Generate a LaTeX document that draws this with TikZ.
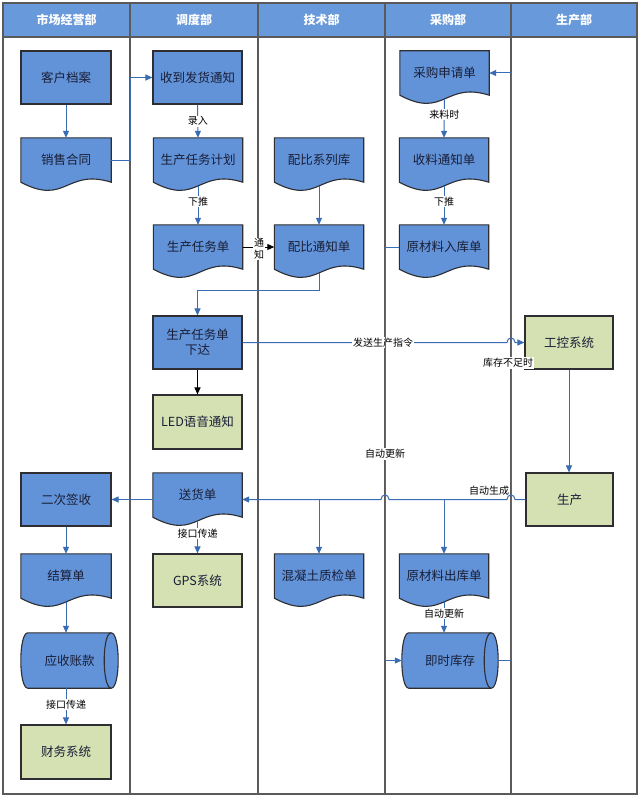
\documentclass[tikz,border=0pt]{standalone}
\usepackage{fontspec}
\newfontfamily\cjk{Noto Sans CJK SC}
\usetikzlibrary{calc,arrows.meta,backgrounds}
\definecolor{hdrblue}{RGB}{104,153,219}
\definecolor{boxblue}{RGB}{98,147,216}
\definecolor{boxgreen}{RGB}{213,225,178}
\definecolor{connblue}{RGB}{58,108,180}
\definecolor{lanegray}{RGB}{90,90,90}
\definecolor{boxedge}{RGB}{45,45,50}
\definecolor{txtdark}{RGB}{25,30,55}
\tikzset{
 base/.style={font=\cjk\fontsize{12.5}{15}\selectfont, text=txtdark, inner sep=0pt, align=center},
 rectb/.style={base, draw=boxedge, fill=boxblue, line width=1.1pt, minimum width=89pt, minimum height=53pt},
 rectg/.style={rectb, fill=boxgreen},
 docn/.style={base, minimum width=89pt, minimum height=44pt},
 cyln/.style={base, minimum width=97pt, minimum height=55pt},
 hdr/.style={font=\cjk\bfseries\fontsize{12}{14}\selectfont, text=white},
 conn/.style={draw=connblue, line width=1pt, -{Triangle[length=7pt,width=6pt]}},
 connk/.style={draw=black, line width=1pt, -{Triangle[length=7pt,width=6pt]}},
 fromdoc/.style={shorten <=4pt},
 lbl/.style={font=\cjk\fontsize{10}{11}\selectfont, text=black, fill=white, inner sep=1pt},
 lane/.style={draw=lanegray, line width=1.2pt},
 shapeline/.style={draw=boxedge, line width=1.1pt},
}
\newcommand\docshape[2]{%
 \begin{pgfonlayer}{background}
 \filldraw[shapeline, fill=#2] (#1.north west) -- (#1.north east) -- (#1.south east)
   .. controls ($(#1.south)+(0,-14)$) and ($(#1.south)+(0,24)$) .. (#1.south west) -- cycle;
 \end{pgfonlayer}}
\newcommand\cylshape[1]{%
 \begin{pgfonlayer}{background}
 \filldraw[shapeline, fill=boxblue] ($(#1.north west)+(7,0)$) -- ($(#1.north east)+(-7,0)$)
   .. controls ($(#1.north east)+(2.33,0)$) and ($(#1.south east)+(2.33,0)$) .. ($(#1.south east)+(-7,0)$)
   -- ($(#1.south west)+(7,0)$)
   .. controls ($(#1.south west)+(-2.33,0)$) and ($(#1.north west)+(-2.33,0)$) .. ($(#1.north west)+(7,0)$) -- cycle;
 \draw[shapeline] ($(#1.north east)+(-7,0)$) .. controls ($(#1.north east)+(-16.33,0)$) and ($(#1.south east)+(-16.33,0)$) .. ($(#1.south east)+(-7,0)$);
 \end{pgfonlayer}}
\begin{document}
\begin{tikzpicture}[x=1pt,y=-1pt]
\useasboundingbox (0,0) rectangle (640,797);
\begin{pgfonlayer}{background}
\fill[white] (0,0) rectangle (640,797);
\fill[hdrblue] (3,3) rectangle (637,37);
\draw[lane] (3,37) -- (637,37);
\foreach \x in {130,258,385,511} { \draw[lane] (\x,3) -- (\x,794); }
\draw[lane] (3,3) rectangle (637,794);
\end{pgfonlayer}
\node[hdr] (h1) at (66.5,20) {市场经营部};
\node[hdr] (h2) at (194,20) {调度部};
\node[hdr] (h3) at (321.5,20) {技术部};
\node[hdr] (h4) at (448,20) {采购部};
\node[hdr] (h5) at (574,20) {生产部};
\coordinate (vL) at (130,0);
\coordinate (vM) at (385,0);
\coordinate (vR) at (511,0);
\coordinate (hy) at (0,290);
% nodes
\node[rectb, minimum width=90pt] (khda) at (66,77.5) {客户档案};
\node[rectb] (sdfh) at (197.5,77.5) {收到发货通知};
\node[docn] (cgsq) at (444.5,73) {采购申请单}; \docshape{cgsq}{boxblue}
\node[docn, minimum width=90pt] (xsht) at (66,160) {销售合同}; \docshape{xsht}{boxblue}
\node[docn] (scjh) at (198,160) {生产任务计划}; \docshape{scjh}{boxblue}
\node[docn] (pbxl) at (319,160) {配比系列库}; \docshape{pbxl}{boxblue}
\node[docn] (sltz) at (444,160) {收料通知单}; \docshape{sltz}{boxblue}
\node[docn] (scrwd) at (198,247) {生产任务单}; \docshape{scrwd}{boxblue}
\node[docn] (pbtz) at (319,247) {配比通知单}; \docshape{pbtz}{boxblue}
\node[docn] (ycrk) at (444,247) {原材料入库单}; \docshape{ycrk}{boxblue}
\node[rectb] (xd) at (197.5,342.5) {生产任务单\\下达};
\node[rectg, minimum width=88pt] (gk) at (569,342.5) {工控系统};
\node[rectg, minimum height=54pt] (led) at (197.5,422) {LED语音通知};
\node[rectb, minimum width=90pt] (eqqs) at (66,499.5) {二次签收};
\node[docn] (song) at (197.5,495) {送货单}; \docshape{song}{boxblue}
\node[rectg, minimum width=87pt] (sc) at (569.5,499.5) {生产};
\node[docn, minimum width=90pt] (jsd) at (66,576) {结算单}; \docshape{jsd}{boxblue}
\node[rectg] (gps) at (197.5,580.5) {GPS系统};
\node[docn] (hnt) at (319,576) {混凝土质检单}; \docshape{hnt}{boxblue}
\node[docn] (yccl) at (444,576) {原材料出库单}; \docshape{yccl}{boxblue}
\node[cyln] (ysk) at (69.5,660.5) {应收账款}; \cylshape{ysk}
\node[cyln, minimum width=96pt] (jskc) at (450,660.5) {即时库存}; \cylshape{jskc}
\node[rectg, minimum width=90pt, minimum height=54pt] (cwxt) at (66,752) {财务系统};
% connectors
\draw[conn] (khda.south) -- (xsht.north);
\draw[conn] (xsht.east) -- (xsht.east -| vL) -- (sdfh.west -| vL) -- (sdfh.west);
\draw[conn] (sdfh.south) -- (scjh.north) node[lbl, midway] (l1) {录入};
\draw[conn, fromdoc] (scjh.south) -- (scrwd.north) node[lbl, pos=0.45] (l2) {下推};
\draw[connk] (scrwd.east) -- (pbtz.west);
\node[lbl, align=center, font=\cjk\fontsize{10}{12}\selectfont] (l3) at (259,249) {通\\知};
\draw[conn, fromdoc] (pbxl.south) -- (pbtz.north);
\draw[conn, fromdoc] (pbtz.south) -- (pbtz.south |- hy) -- (xd.north |- hy) -- (xd.north);
\draw[connk] (xd.south) -- (led.north);
\draw[conn] (xd.east) -- ($(xd.east -| vR)+(-4,0)$)
  .. controls ($(xd.east -| vR)+(-4,-6)$) and ($(xd.east -| vR)+(4,-6)$) .. ($(xd.east -| vR)+(4,0)$) -- (gk.west);
\node[lbl] (l4) at (383,342.5) {发送生产指令};
\draw[conn] (gk.south) -- (gk.south |- sc.north);
\draw[conn] (sc.west) -- ($(sc.west -| vR)+(4,0)$)
  .. controls ($(sc.west -| vR)+(4,-6)$) and ($(sc.west -| vR)+(-4,-6)$) .. ($(sc.west -| vR)+(-4,0)$)
  -- ($(sc.west -| vM)+(4,0)$)
  .. controls ($(sc.west -| vM)+(4,-6)$) and ($(sc.west -| vM)+(-4,-6)$) .. ($(sc.west -| vM)+(-4,0)$)
  -- (song.east |- sc.west);
\node[font=\cjk\fontsize{10}{11}\selectfont, inner sep=1pt] (l5) at (489,491) {自动生成};
\draw[conn] (hnt.north |- sc.west) -- (hnt.north);
\draw[conn] (yccl.north |- sc.west) -- (yccl.north);
\draw[conn] (song.west |- eqqs.east) -- (eqqs.east);
\draw[conn, fromdoc] (song.south) -- (gps.north) node[lbl, pos=0.45] (l6) {接口传递};
\draw[conn] (eqqs.south) -- (jsd.north);
\draw[conn, fromdoc] (jsd.south) -- (jsd.south |- ysk.north);
\draw[conn] (cwxt.north |- ysk.south) -- (cwxt.north) node[lbl, pos=0.45] (l7) {接口传递};
\draw[conn, fromdoc] (yccl.south) -- (yccl.south |- jskc.north) node[lbl, pos=0.45] (l8) {自动更新};
\draw[conn] (ycrk.west) -- (ycrk.west -| vM) -- (jskc.west -| vM) -- (jskc.west);
\node[lbl] (l9) at (385,454) {自动更新};
\draw[conn] (jskc.east) -- (jskc.east -| vR) -- (cgsq.east -| vR) -- (cgsq.east);
\node[lbl] (l10) at (508,363) {库存不足时};
\draw[conn, fromdoc] (cgsq.south) -- (sltz.north) node[lbl, pos=0.45] (l11) {来料时};
\draw[conn, fromdoc] (sltz.south) -- (ycrk.north) node[lbl, pos=0.45] (l12) {下推};
\end{tikzpicture}
\end{document}
